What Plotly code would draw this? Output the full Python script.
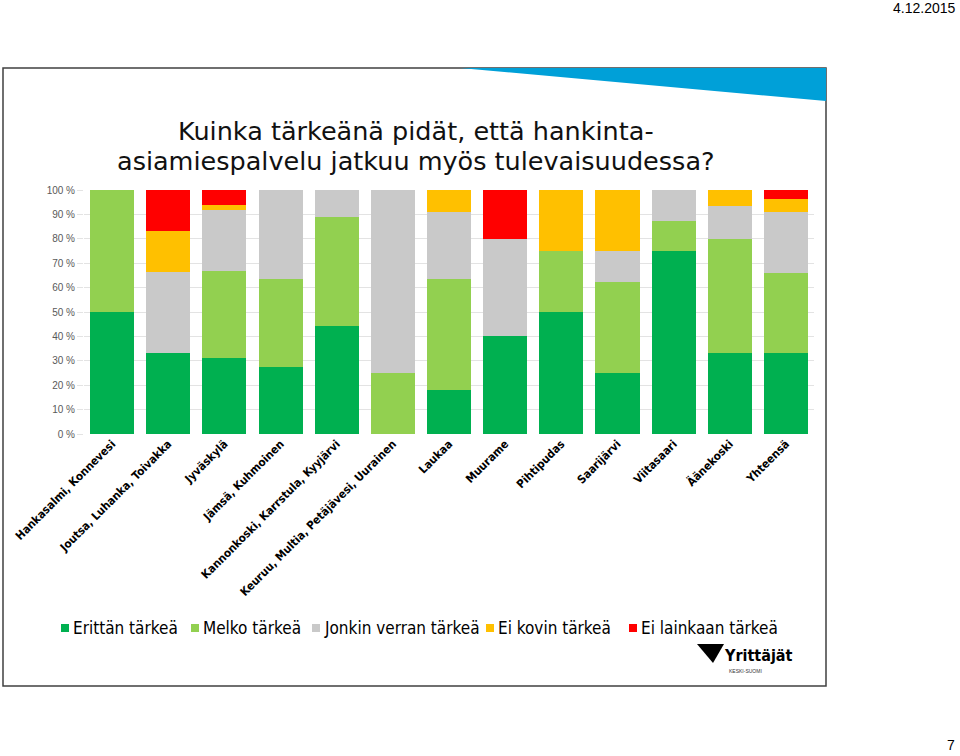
import plotly.graph_objects as go

categories = ["Hankasalmi, Konnevesi", "Joutsa, Luhanka, Toivakka", "Jyväskylä",
              "Jämsä, Kuhmoinen", "Kannonkoski, Karrstula, Kyyjärvi",
              "Keuruu, Multia, Petäjävesi, Uurainen", "Laukaa", "Muurame",
              "Pihtipudas", "Saarijärvi", "Viitasaari", "Äänekoski", "Yhteensä"]

erittain = [50.0, 33.3, 31.2, 27.3, 44.4, 0.0, 18.2, 40.0, 50.0, 25.0, 75.0, 33.3, 33.3]
melko = [50.0, 0.0, 35.5, 36.4, 44.4, 25.0, 45.5, 0.0, 25.0, 37.5, 12.5, 46.7, 32.6]
jonkin = [0.0, 33.3, 25.3, 36.4, 11.1, 75.0, 27.3, 40.0, 0.0, 12.5, 12.5, 13.3, 25.1]
ei_kovin = [0.0, 16.7, 2.0, 0.0, 0.0, 0.0, 9.1, 0.0, 25.0, 25.0, 0.0, 6.7, 5.4]
ei_lainkaan = [0.0, 16.7, 6.0, 0.0, 0.0, 0.0, 0.0, 20.0, 0.0, 0.0, 0.0, 0.0, 3.6]

series_names = ["Erittän tärkeä", "Melko tärkeä", "Jonkin verran tärkeä",
                "Ei kovin tärkeä", "Ei lainkaan tärkeä"]
series_values = [erittain, melko, jonkin, ei_kovin, ei_lainkaan]
series_colors = ["#00b050", "#92d050", "#c9c9c9", "#ffc000", "#ff0000"]

y_tickvals = [0, 10, 20, 30, 40, 50, 60, 70, 80, 90, 100]
y_ticktext = ["0 %", "10 %", "20 %", "30 %", "40 %", "50 %", "60 %", "70 %", "80 %", "90 %", "100 %"]

W, H = 960, 756
def px(x):
    return x / W
def py(y):
    return 1 - y / H

fig = go.Figure()
for name, vals, col in zip(series_names, series_values, series_colors):
    fig.add_trace(go.Bar(x=categories, y=vals, name=name, marker_color=col,
                         marker_line_width=0, showlegend=False))

fig.update_layout(
    width=W, height=H,
    margin=dict(l=0, r=0, t=0, b=0, autoexpand=False),
    paper_bgcolor="white", plot_bgcolor="white",
    barmode="stack", bargap=0.215,
    showlegend=False,
    xaxis=dict(domain=[px(84), px(814)], tickangle=-45, automargin=False,
               tickfont=dict(family="DejaVu Sans Condensed", size=11.5, color="black", weight="bold"),
               showgrid=False, showline=False, ticks=""),
    yaxis=dict(domain=[py(434), py(190)], range=[0, 100], tickvals=y_tickvals, automargin=False,
               ticktext=y_ticktext, showgrid=True, gridcolor="#e3e3e3", gridwidth=1,
               ticks="outside", ticklen=6, tickcolor="#e3e3e3",
               tickfont=dict(family="Liberation Sans", size=10, color="#595959"),
               zeroline=False, showline=False),
    font=dict(family="Liberation Sans"),
)

shapes = [
    dict(type="rect", xref="paper", yref="paper", x0=px(3), x1=px(826), y0=py(686), y1=py(68),
         line=dict(color="#404040", width=1.5), fillcolor="rgba(0,0,0,0)", layer="below"),
    dict(type="path", xref="paper", yref="paper",
         path=f"M {px(460)} {py(68)} L {px(826)} {py(68)} L {px(826)} {py(101)} Z",
         fillcolor="#00a0d8", line=dict(width=0)),
    # logo mark
    dict(type="path", xref="paper", yref="paper",
         path=f"M {px(697)} {py(644)} L {px(724)} {py(644)} L {px(713)} {py(663)} Z",
         fillcolor="black", line=dict(width=0)),
]

# legend (manual, compact like reference)
legend_marker_x = [61, 191, 312, 486, 629]
legend_text_x = [71, 201, 322, 496, 639]
legend_y = 628
annotations = []
for name, col, mx, tx in zip(series_names, series_colors, legend_marker_x, legend_text_x):
    shapes.append(dict(type="rect", xref="paper", yref="paper",
                       x0=px(mx), x1=px(mx + 8), y0=py(legend_y + 4), y1=py(legend_y - 4),
                       fillcolor=col, line=dict(width=0)))
    annotations.append(dict(text=name, xref="paper", yref="paper", x=px(tx), y=py(legend_y),
                            xanchor="left", yanchor="middle", showarrow=False,
                            font=dict(family="DejaVu Sans Condensed", size=17, color="black")))
fig.update_layout(shapes=shapes)

annotations += [
    dict(text="Kuinka tärkeänä pidät, että hankinta-",
         xref="paper", yref="paper", x=px(416), y=py(131), xanchor="center", yanchor="middle",
         showarrow=False, font=dict(family="DejaVu Sans", size=25.5, color="#111111")),
    dict(text="asiamiespalvelu jatkuu myös tulevaisuudessa?",
         xref="paper", yref="paper", x=px(416), y=py(161), xanchor="center", yanchor="middle",
         showarrow=False, font=dict(family="DejaVu Sans", size=25.5, color="#111111")),
    dict(text="4.12.2015", xref="paper", yref="paper", x=px(957), y=py(8), xanchor="right",
         yanchor="middle", showarrow=False,
         font=dict(family="Liberation Sans", size=14, color="black")),
    dict(text="7", xref="paper", yref="paper", x=px(957), y=py(745), xanchor="right",
         yanchor="middle", showarrow=False,
         font=dict(family="Liberation Sans", size=14, color="black")),
    dict(text="<b>Yrittäjät</b>", xref="paper", yref="paper", x=px(722), y=py(655), xanchor="left",
         yanchor="middle", showarrow=False,
         font=dict(family="DejaVu Sans Condensed", size=16, color="black")),
    dict(text="KESKI-SUOMI", xref="paper", yref="paper", x=px(745), y=py(671), xanchor="center",
         yanchor="middle", showarrow=False,
         font=dict(family="Liberation Sans", size=5, color="#333333")),
]
fig.update_layout(annotations=annotations)

fig.write_html("out.html", config={"displayModeBar": False},
               post_script="document.body.style.margin='0';document.body.style.overflow='hidden';")
